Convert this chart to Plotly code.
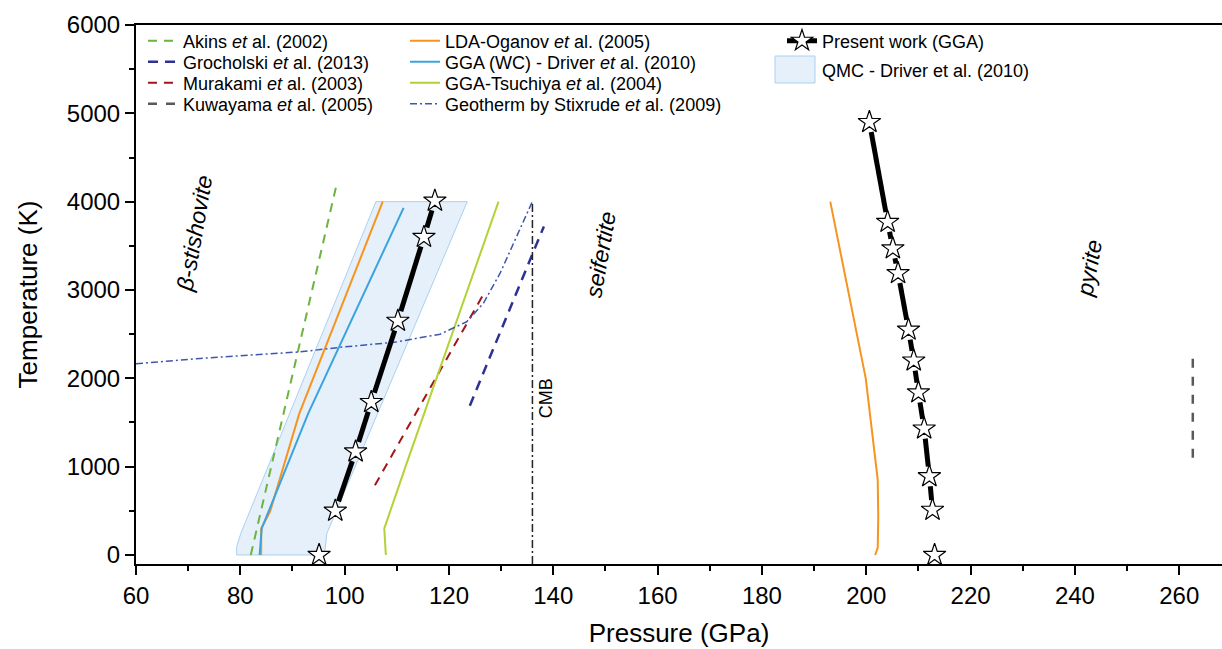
import math
import plotly.graph_objects as go

# ---------------- data (pressure in GPa, temperature in K) ----------------
akins_p = [82.0, 98.4]
akins_t = [0, 4180]

grocholski_p = [124.0, 138.2]
grocholski_t = [1690, 3720]

murakami_p = [105.8, 126.5]
murakami_t = [790, 2940]

kuwayama_p = [262.6, 262.6]
kuwayama_t = [1100, 2230]

oganov_low_p = [84.0, 84.0, 85.7, 91.3, 107.3]
oganov_low_t = [0, 300, 490, 1600, 4000]
oganov_high_p = [201.7, 202.2, 202.3, 202.2, 201.1, 199.9, 193.1]
oganov_high_t = [0, 80, 430, 850, 1400, 2000, 4000]

driver_wc_p = [83.7, 84.1, 85.4, 93.0, 111.3]
driver_wc_t = [0, 300, 490, 1600, 3930]

tsuchiya_p = [107.9, 107.6, 111.9, 129.5]
tsuchiya_t = [0, 300, 1040, 4000]

geotherm_p = [60.0, 72.3, 91.5, 99.8, 109.8, 118.3, 123.4, 126.6, 129.8, 133.0, 135.9]
geotherm_t = [2165, 2225, 2300, 2355, 2410, 2500, 2640, 2850, 3190, 3600, 3990]

qmc_p = [79.3, 79.3, 80.1, 106.0, 123.5, 96.6, 96.1, 79.3]
qmc_t = [0, 94, 245, 4000, 4000, 245, 0, 0]

cmb_p = 136.0
cmb_t_top = 4000

# present work (GGA): beta-stishovite -> seifertite and seifertite -> pyrite boundaries
gga_sf_p = [95.1, 98.2, 102.1, 105.1, 110.2, 115.2, 117.3]
gga_sf_t = [0, 500, 1170, 1730, 2650, 3600, 4010]
gga_py_p = [213.1, 212.7, 212.1, 211.1, 210.0, 209.1, 208.1, 206.1, 205.1, 204.1, 200.6]
gga_py_t = [0, 510, 890, 1430, 1840, 2200, 2550, 3190, 3470, 3770, 4900]

x_ticks = [60, 80, 100, 120, 140, 160, 180, 200, 220, 240, 260]
y_ticks = [0, 1000, 2000, 3000, 4000, 5000, 6000]

# ---------------- layout geometry ----------------
W, H = 1222, 649
M_L, M_R, M_T, M_B = 136, 0, 25, 85
X_RANGE = [60, 268.2]
Y_RANGE = [-102, 6000]
PLOT_W = W - M_L - M_R
PLOT_H = H - M_T - M_B
KX = PLOT_W / (X_RANGE[1] - X_RANGE[0])   # px per GPa
KY = PLOT_H / (Y_RANGE[1] - Y_RANGE[0])   # px per K

FONT = "Liberation Sans, Arial, sans-serif"

QMC_FILL = "#e5f0fa"
QMC_EDGE = "#a8d1f0"


def px_to_paper(x_px, y_px):
    return (x_px - M_L) / PLOT_W, (H - M_B - y_px) / PLOT_H


def gapped_path(ps, ts, gap_px=10.0):
    """Join consecutive points, leaving a small gap around each symbol."""
    xs, ys = [], []
    for (p0, t0), (p1, t1) in zip(zip(ps[:-1], ts[:-1]), zip(ps[1:], ts[1:])):
        length = math.hypot((p1 - p0) * KX, (t1 - t0) * KY)
        f = gap_px / length
        if 2 * f >= 1:
            continue
        xs += [p0 + (p1 - p0) * f, p1 - (p1 - p0) * f, None]
        ys += [t0 + (t1 - t0) * f, t1 - (t1 - t0) * f, None]
    return xs, ys


# legend slots: (legend id, left edge in px, row centre in px from top)
LEGEND_SLOTS = {
    "akins": ("legend", 143, 41),
    "grocholski": ("legend2", 143, 62),
    "murakami": ("legend3", 143, 83),
    "kuwayama": ("legend4", 143, 104),
    "oganov": ("legend5", 405, 41),
    "driver": ("legend6", 405, 62),
    "tsuchiya": ("legend7", 405, 83),
    "geotherm": ("legend8", 405, 104),
    "present": ("legend9", 782, 41),
    "qmc": ("legend10", 782, 70),
}

fig = go.Figure()

# QMC band
fig.add_trace(go.Scatter(
    x=qmc_p, y=qmc_t, mode="lines", fill="toself",
    fillcolor=QMC_FILL, line=dict(color=QMC_EDGE, width=1),
    showlegend=False, name="QMC - Driver et al. (2010)"))

# experimental boundaries (dashed)
fig.add_trace(go.Scatter(
    x=akins_p, y=akins_t, mode="lines",
    line=dict(color="#6db33f", width=2, dash="9px,7px"),
    name="Akins <i>et</i> al. (2002)", legend=LEGEND_SLOTS["akins"][0]))
fig.add_trace(go.Scatter(
    x=grocholski_p, y=grocholski_t, mode="lines",
    line=dict(color="#2e3192", width=2.5, dash="10px,7px"),
    name="Grocholski <i>et</i> al. (2013)", legend=LEGEND_SLOTS["grocholski"][0]))
fig.add_trace(go.Scatter(
    x=murakami_p, y=murakami_t, mode="lines",
    line=dict(color="#a3151b", width=2, dash="9px,7px"),
    name="Murakami <i>et</i> al. (2003)", legend=LEGEND_SLOTS["murakami"][0]))
fig.add_trace(go.Scatter(
    x=kuwayama_p, y=kuwayama_t, mode="lines",
    line=dict(color="#58595b", width=2.5, dash="9px,9px"),
    name="Kuwayama <i>et</i> al. (2005)", legend=LEGEND_SLOTS["kuwayama"][0]))

# theoretical boundaries (solid)
fig.add_trace(go.Scatter(
    x=oganov_low_p, y=oganov_low_t, mode="lines",
    line=dict(color="#f7941d", width=2),
    name="LDA-Oganov <i>et</i> al. (2005)", legend=LEGEND_SLOTS["oganov"][0],
    legendgroup="oganov"))
fig.add_trace(go.Scatter(
    x=oganov_high_p, y=oganov_high_t, mode="lines",
    line=dict(color="#f7941d", width=2),
    showlegend=False, legendgroup="oganov", legend=LEGEND_SLOTS["oganov"][0]))
fig.add_trace(go.Scatter(
    x=driver_wc_p, y=driver_wc_t, mode="lines",
    line=dict(color="#3ba3de", width=2),
    name="GGA (WC) - Driver <i>et</i> al. (2010)", legend=LEGEND_SLOTS["driver"][0]))
fig.add_trace(go.Scatter(
    x=tsuchiya_p, y=tsuchiya_t, mode="lines",
    line=dict(color="#b2d235", width=2),
    name="GGA-Tsuchiya <i>et</i> al. (2004)", legend=LEGEND_SLOTS["tsuchiya"][0]))
fig.add_trace(go.Scatter(
    x=geotherm_p, y=geotherm_t, mode="lines",
    line=dict(color="#3f56b0", width=1.5, dash="7px,3px,2px,3px"),
    name="Geotherm by Stixrude <i>et</i> al. (2009)", legend=LEGEND_SLOTS["geotherm"][0]))

# core-mantle boundary
fig.add_trace(go.Scatter(
    x=[cmb_p, cmb_p], y=[Y_RANGE[0], cmb_t_top], mode="lines",
    line=dict(color="#222222", width=1.5, dash="8px,3px,2px,3px"),
    showlegend=False))

# present work: thick connecting lines (gapped at the symbols) + star symbols
for ps, ts in ((gga_sf_p, gga_sf_t), (gga_py_p, gga_py_t)):
    gx, gy = gapped_path(ps[1:], ts[1:])
    fig.add_trace(go.Scatter(
        x=gx, y=gy, mode="lines", line=dict(color="black", width=5),
        showlegend=False, hoverinfo="skip"))
    fig.add_trace(go.Scatter(
        x=ps, y=ts, mode="markers",
        marker=dict(symbol="star", size=17, color="white",
                    line=dict(color="black", width=1.2)),
        showlegend=False))

# legend-only entries for the right-hand column
fig.add_trace(go.Scatter(
    x=[None], y=[None], mode="lines+markers",
    line=dict(color="black", width=5),
    marker=dict(symbol="star", size=16, color="white",
                line=dict(color="black", width=1.2)),
    name="Present work (GGA)", legend=LEGEND_SLOTS["present"][0]))
fig.add_trace(go.Scatter(
    x=[None], y=[None], mode="lines",
    line=dict(color="rgba(0,0,0,0)", width=0),
    name="QMC - Driver et al. (2010)", legend=LEGEND_SLOTS["qmc"][0]))

# large swatch for the QMC entry
sx0, sy0 = px_to_paper(775, 83)
sx1, sy1 = px_to_paper(815, 56)
fig.add_shape(type="rect", xref="paper", yref="paper",
              x0=sx0, y0=sy0, x1=sx1, y1=sy1,
              fillcolor=QMC_FILL, line=dict(color=QMC_EDGE, width=1), layer="above")

# phase-field labels
label_font = dict(family=FONT, size=23, color="black")
fig.add_annotation(x=71.3, y=3640, text="<i>β-stishovite</i>", textangle=-80,
                   showarrow=False, font=label_font)
fig.add_annotation(x=149.0, y=3400, text="<i>seifertite</i>", textangle=-80,
                   showarrow=False, font=label_font)
fig.add_annotation(x=242.8, y=3246, text="<i>pyrite</i>", textangle=-80,
                   showarrow=False, font=label_font)
fig.add_annotation(x=138.5, y=1780, text="CMB", textangle=-90,
                   showarrow=False, font=dict(family=FONT, size=18, color="black"))

legends = {}
for slot_id, left_px, row_px in LEGEND_SLOTS.values():
    lx, ly = px_to_paper(left_px, row_px)
    legends[slot_id] = dict(
        x=lx, y=ly, xanchor="left", yanchor="middle",
        bgcolor="rgba(0,0,0,0)", borderwidth=0,
        font=dict(family=FONT, size=18, color="black"))

axis_common = dict(
    showline=True, linecolor="black", linewidth=2, ticks="outside",
    ticklen=9, tickwidth=2, tickcolor="black", showgrid=False, zeroline=False,
    tickfont=dict(family=FONT, size=24, color="black"),
)

fig.update_layout(
    width=W, height=H,
    margin=dict(l=M_L, r=M_R, t=M_T, b=M_B),
    paper_bgcolor="white", plot_bgcolor="white",
    font=dict(family=FONT, color="black"),
    xaxis=dict(
        range=X_RANGE, tickvals=x_ticks, mirror=True,
        minor=dict(ticks="outside", ticklen=5, tickwidth=2, tickcolor="black", dtick=10),
        title=dict(text="Pressure (GPa)", font=dict(family=FONT, size=26), standoff=16),
        **axis_common),
    yaxis=dict(
        range=Y_RANGE, tickvals=y_ticks,
        minor=dict(ticks="outside", ticklen=5, tickwidth=2, tickcolor="black", dtick=500),
        title=dict(text="Temperature (K)", font=dict(family=FONT, size=26), standoff=22),
        **axis_common),
    **legends,
)

fig.write_html("out.html")
